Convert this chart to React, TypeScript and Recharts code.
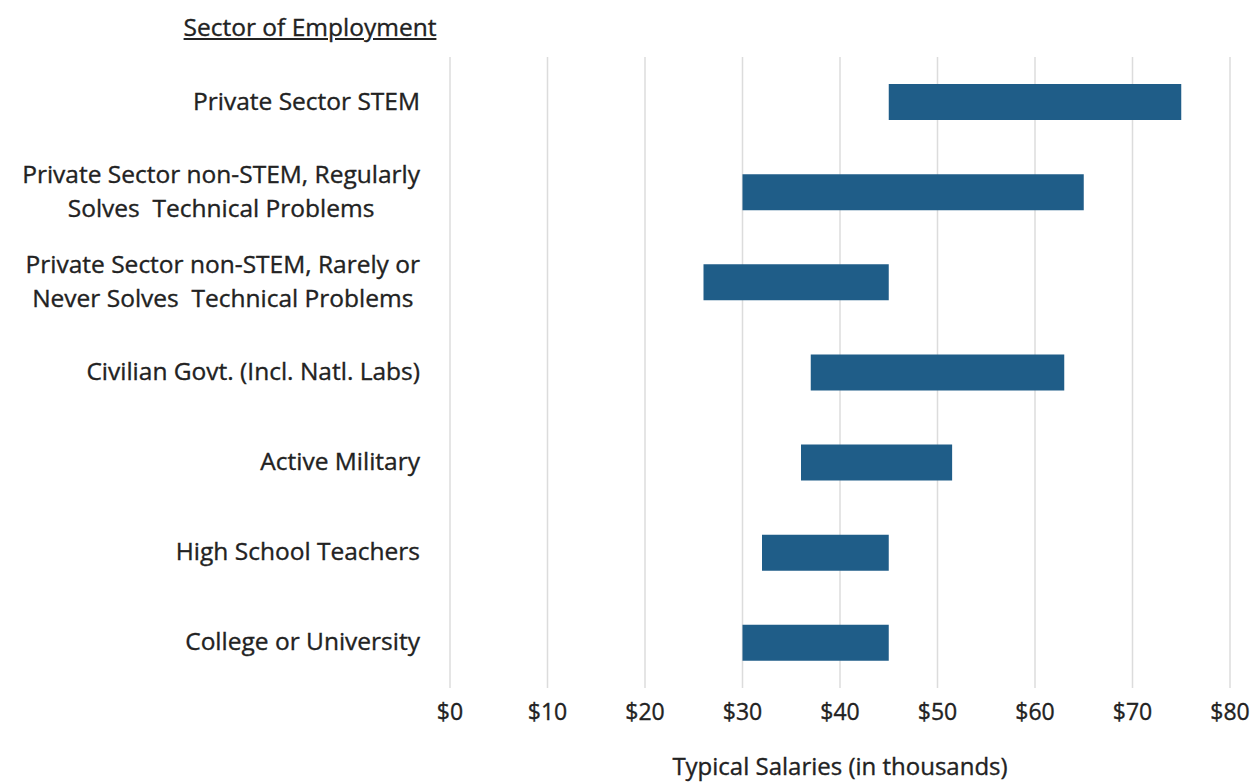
import React from "react";
import { BarChart, Bar, XAxis, YAxis, CartesianGrid } from "recharts";

const categories = [
  "Private Sector STEM",
  "Private Sector non-STEM, Regularly\nSolves  Technical Problems",
  "Private Sector non-STEM, Rarely or\nNever Solves  Technical Problems",
  "Civilian Govt. (Incl. Natl. Labs)",
  "Active Military",
  "High School Teachers",
  "College or University",
];
const lowSalary = [45, 30, 26, 37, 36, 32, 30];
const highSalary = [75, 65, 45, 63, 51.5, 45, 45];
const xTicks = [0, 10, 20, 30, 40, 50, 60, 70, 80];

const FONT = "'Open Sans', 'Liberation Sans', sans-serif";
const TEXT = "#222";
const BAR = "#1f5d88";
const LABEL_SIZE = 24.5;

const data = categories.map((name, i) => ({
  name,
  base: lowSalary[i],
  span: highSalary[i] - lowSalary[i],
}));

let ctx: CanvasRenderingContext2D | null = null;
function measure(s: string, font: string) {
  if (!ctx) ctx = document.createElement("canvas").getContext("2d");
  if (!ctx) return s.length * 11;
  ctx.font = font;
  return ctx.measureText(s).width;
}

// multi-line labels are centred as a block, block is right-aligned
function CategoryTick(props: any) {
  const { x, y, payload } = props;
  const lines: string[] = String(payload.value).split("\n");
  const font = `${LABEL_SIZE}px ${FONT}`;
  const widest = Math.max(...lines.map((l) => measure(l, font)));
  const right = x - 22;
  const lineH = 34;
  const top = y - 2 - ((lines.length - 1) * lineH) / 2;
  return (
    <g>
      {lines.map((l, i) => (
        <text
          key={i}
          x={lines.length > 1 ? right - widest / 2 : right}
          y={top + i * lineH}
          textAnchor={lines.length > 1 ? "middle" : "end"}
          dominantBaseline="central"
          fontFamily={FONT}
          fontSize={LABEL_SIZE}
          fill={TEXT}
          stroke={TEXT}
          strokeWidth={0.35}
          style={{ whiteSpace: "pre" }}
        >
          {l}
        </text>
      ))}
    </g>
  );
}

function SalaryTick(props: any) {
  const { x, y, payload } = props;
  return (
    <text
      x={x}
      y={y + 15}
      textAnchor="middle"
      dominantBaseline="central"
      fontFamily={FONT}
      fontSize={23}
      fill={TEXT}
      stroke={TEXT}
      strokeWidth={0.35}
    >
      {"$" + payload.value}
    </text>
  );
}

export default function App() {
  return (
    <div style={{ position: "absolute", left: 0, top: 0, width: 1253, height: 784, background: "#fff" }}>
      <div
        style={{
          position: "absolute",
          left: 0,
          width: 620,
          top: 10,
          textAlign: "center",
          fontFamily: FONT,
          fontSize: 24.5,
          lineHeight: "34px",
          color: TEXT,
          textDecoration: "underline",
          WebkitTextStroke: "0.35px #222",
        }}
      >
        Sector of Employment
      </div>
      <BarChart
        width={1253}
        height={784}
        data={data}
        layout="vertical"
        barSize={36}
        margin={{ top: 57, right: 23, left: 0, bottom: 0 }}
      >
        <CartesianGrid horizontal={false} stroke="#dcdcdc" strokeWidth={1.5} />
        <XAxis
          type="number"
          domain={[0, 80]}
          ticks={xTicks}
          axisLine={false}
          tickLine={false}
          height={96}
          tick={<SalaryTick />}
          label={{
            value: "Typical Salaries (in thousands)",
            position: "insideBottom",
            offset: 9,
            fontFamily: FONT,
            fontSize: 24,
            fill: TEXT,
            stroke: TEXT,
            strokeWidth: 0.35,
          }}
        />
        <YAxis
          type="category"
          dataKey="name"
          width={450}
          axisLine={false}
          tickLine={false}
          tick={<CategoryTick />}
          interval={0}
        />
        <Bar dataKey="base" stackId="r" fill="transparent" isAnimationActive={false} />
        <Bar dataKey="span" stackId="r" fill={BAR} isAnimationActive={false} />
      </BarChart>
    </div>
  );
}
